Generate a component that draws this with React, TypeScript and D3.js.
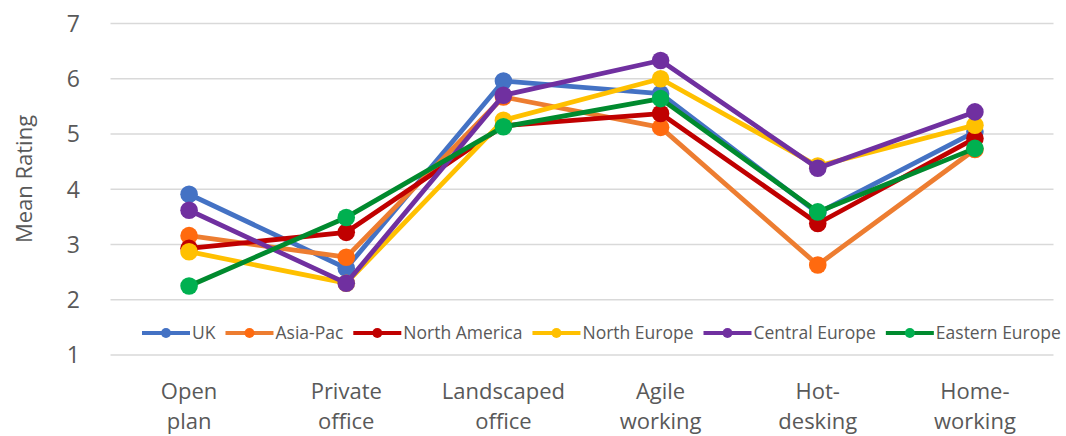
import React, { useEffect, useRef } from "react";
import * as d3 from "d3";

const categories = ["Open\nplan", "Private\noffice", "Landscaped\noffice", "Agile\nworking", "Hot-\ndesking", "Home-\nworking"];
const seriesNames = ["UK", "Asia-Pac", "North America", "North Europe", "Central Europe", "Eastern Europe"];
const lineColors = ["#4472C4", "#ED7D31", "#C00000", "#FFC000", "#7030A0", "#008A2E"];
const markerColors = ["#4472C4", "#FF6A0F", "#C00000", "#FFC000", "#7030A0", "#00B050"];
const ukValues = [3.91, 2.57, 5.96, 5.73, 3.57, 5.04];
const asiaPacValues = [3.16, 2.77, 5.67, 5.12, 2.63, 4.72];
const northAmericaValues = [2.93, 3.22, 5.15, 5.37, 3.38, 4.92];
const northEuropeValues = [2.87, 2.3, 5.25, 6.0, 4.42, 5.16];
const centralEuropeValues = [3.62, 2.3, 5.7, 6.33, 4.38, 5.4];
const easternEuropeValues = [2.25, 3.49, 5.13, 5.64, 3.59, 4.74];
const yTicks = [1, 2, 3, 4, 5, 6, 7];
const yTitle = "Mean Rating";

const seriesValues = [ukValues, asiaPacValues, northAmericaValues, northEuropeValues, centralEuropeValues, easternEuropeValues];

const W = 1066;
const H = 436;
const FONT = "'Open Sans', sans-serif";
const TEXT = "#595959";

export default function App() {
  const ref = useRef<SVGSVGElement>(null);

  useEffect(() => {
    const svg = d3.select(ref.current);
    svg.selectAll("*").remove();

    const left = 110.5, right = 1053.5, top = 23.5, bottom = 355;
    const x = d3.scaleBand<number>().domain(d3.range(categories.length)).range([left, right]);
    const y = d3.scaleLinear().domain([1, 7]).range([bottom, top]);

    // gridlines
    svg.append("g").selectAll("line").data(yTicks).join("line")
      .attr("x1", left).attr("x2", right)
      .attr("y1", (d) => y(d)).attr("y2", (d) => y(d))
      .attr("stroke", "#D9D9D9").attr("stroke-width", 1.5);

    // y tick labels
    svg.append("g").selectAll("text").data(yTicks).join("text")
      .attr("x", 80).attr("y", (d) => y(d)).attr("dy", "0.36em")
      .attr("text-anchor", "end").attr("font-family", FONT).attr("font-size", 23)
      .attr("fill", TEXT).text((d) => d);

    // y title
    svg.append("text")
      .attr("transform", `translate(32,179) rotate(-90)`)
      .attr("text-anchor", "middle").attr("font-family", FONT).attr("font-size", 22)
      .attr("fill", TEXT).text(yTitle);

    // category labels
    const cat = svg.append("g").selectAll("text").data(categories).join("text")
      .attr("text-anchor", "middle").attr("font-family", FONT).attr("font-size", 22)
      .attr("fill", TEXT);
    cat.each(function (d, i) {
      const t = d3.select(this);
      d.split("\n").forEach((ln, j) => {
        t.append("tspan").attr("x", x(i)! + x.bandwidth() / 2).attr("y", 399 + j * 30).text(ln);
      });
    });

    const cx = (i: number) => x(i)! + x.bandwidth() / 2;
    const line = d3.line<number>().x((_, i) => cx(i)).y((d) => y(d));

    seriesValues.forEach((vals, s) => {
      const g = svg.append("g");
      g.append("path").attr("d", line(vals)!).attr("fill", "none")
        .attr("stroke", lineColors[s]).attr("stroke-width", 4.8).attr("stroke-linejoin", "round");
      g.selectAll("circle").data(vals).join("circle")
        .attr("cx", (_, i) => cx(i)).attr("cy", (d) => y(d)).attr("r", 8.8)
        .attr("fill", markerColors[s]);
    });

    // legend
    const lg = svg.append("g");
    let lx = 142;
    const ly = 333;
    seriesNames.forEach((name, s) => {
      lg.append("line").attr("x1", lx).attr("x2", lx + 48).attr("y1", ly).attr("y2", ly)
        .attr("stroke", lineColors[s]).attr("stroke-width", 4);
      lg.append("circle").attr("cx", lx + 24).attr("cy", ly).attr("r", 5).attr("fill", markerColors[s]);
      const t = lg.append("text").attr("x", lx + 50).attr("y", ly).attr("dy", "0.36em")
        .attr("font-family", FONT).attr("font-size", 17.5).attr("fill", TEXT).text(name);
      const w = (t.node() as SVGTextElement).getComputedTextLength();
      lx = lx + 50 + w + 10;
    });
  }, []);

  return (
    <svg ref={ref} width={W} height={H} style={{ position: "absolute", left: 0, top: 0, background: "#fff" }} />
  );
}
